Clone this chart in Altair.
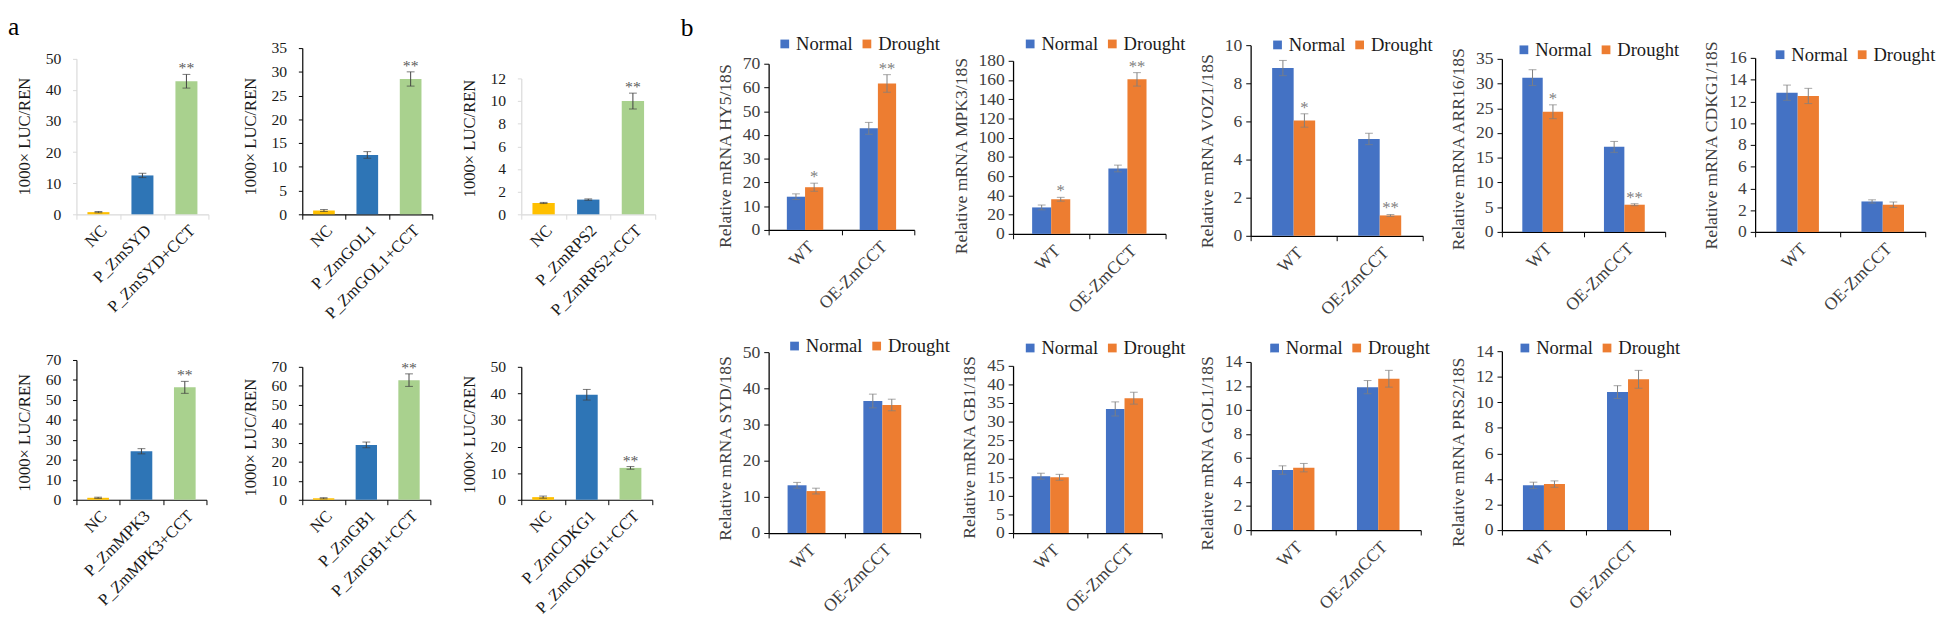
import altair as alt
import pandas as pd

FONT = "Liberation Serif, Times New Roman, serif"

# ---------------- panel a : dual-luciferase assays ----------------
A_GENES = ["SYD", "GOL1", "RPS2", "MPK3", "GB1", "CDKG1"]
A_NC = [0.7, 0.8, 1.0, 1.0, 0.8, 1.0]
A_NC_ERR = [0.2, 0.2, 0.05, 0.3, 0.3, 0.4]
A_P = [12.5, 12.5, 1.3, 24.3, 28.9, 39.5]
A_P_ERR = [0.7, 0.7, 0.06, 1.3, 1.5, 2.0]
A_PC = [42.8, 28.5, 10.0, 56.3, 63.0, 12.0]
A_PC_ERR = [2.2, 1.5, 0.7, 3.0, 3.3, 0.5]
A_STAR = ["**", "**", "**", "**", "**", "**"]
A_YMAX = [50, 35, 12, 70, 70, 50]
A_YSTEP = [10, 5, 2, 10, 10, 10]

# ---------------- panel b : qRT-PCR ----------------
B_GENES = ["HY5", "MPK3", "VOZ1", "ARR16", "CDKG1", "SYD", "GB1", "GOL1", "PRS2"]
B_GENO = ["WT", "OE-ZmCCT"]
B_COND = ["Normal", "Drought"]
B_WT_N = [14.0, 27.5, 8.8, 31.2, 12.8, 13.2, 15.3, 5.0, 3.5]
B_WT_N_ERR = [1.2, 2.5, 0.4, 1.6, 0.7, 0.8, 0.8, 0.35, 0.25]
B_WT_D = [18.0, 36.0, 6.05, 24.3, 12.5, 11.6, 15.0, 5.2, 3.6]
B_WT_D_ERR = [1.7, 2.0, 0.35, 1.4, 0.7, 0.8, 0.8, 0.35, 0.25]
B_OE_N = [42.8, 68.0, 5.08, 17.2, 2.8, 36.5, 33.4, 11.9, 10.8]
B_OE_N_ERR = [2.5, 3.5, 0.3, 1.1, 0.15, 1.9, 1.9, 0.55, 0.5]
B_OE_D = [61.7, 160.7, 1.07, 5.5, 2.5, 35.4, 36.3, 12.6, 11.8]
B_OE_D_ERR = [3.7, 7.0, 0.05, 0.2, 0.25, 1.6, 1.6, 0.7, 0.7]
B_WT_D_STAR = ["*", "*", "*", "*", "", "", "", "", ""]
B_OE_D_STAR = ["**", "**", "**", "**", "", "", "", "", ""]
B_YMAX = [70, 180, 10, 35, 16, 50, 45, 14, 14]
B_YSTEP = [10, 20, 2, 5, 2, 10, 5, 2, 2]

# ---------------- styles ----------------
A_COLORS = ["#FFC000", "#2E75B6", "#A9D18E"]
B_COLORS = ["#4472C4", "#ED7D31"]
EB_A = "#404040"
EB_B = "#7F7F7F"

# ---------------- layout (page pixels) ----------------
O = 8
ROW_T = [39, 352]      # common top of the plot cells in each row
ROW_B = [234, 538]     # common bottom of the plot cells in each row
# left, top, width, height, axis colour, row, y-title centre
A_LAYOUT = [
    (70, 53, 135, 159, "#D9D9D9", 0, 132),
    (301, 42, 133, 170, "#000000", 0, 132),
    (525, 73, 137, 139, "#D9D9D9", 0, 134),
    (78, 361, 133, 143, "#000000", 1, 435),
    (302, 368, 131, 136, "#000000", 1, 440),
    (524, 368, 134, 136, "#000000", 1, 437),
]
# left, top, width, height, legend x, legend y, row, y-title centre
B_LAYOUT = [
    (778, 58, 149, 170, 7, -30, 0, 152),
    (1021, 55, 156, 177, 8, -27, 0, 152),
    (1253, 39, 176, 195, 18, -10, 0, 147),
    (1510, 53, 167, 177, 13, -19, 0, 145),
    (1764, 52, 174, 178, 16, -13, 0, 141),
    (773, 353, 155, 185, 17, -16, 1, 451),
    (1023, 367, 152, 171, 8, -28, 1, 450),
    (1262, 363, 174, 172, 15, -24, 1, 456),
    (1508, 352, 172, 183, 14, -13, 1, 455),
]

DUMMY = pd.DataFrame({"d": [0]})


def spacer(w, h, title=None):
    ch = alt.Chart(DUMMY).mark_point(opacity=0, size=0, filled=True, strokeWidth=0).encode(
        x=alt.value(0), y=alt.value(0)
    ).properties(width=max(int(w), 1), height=max(int(h), 1))
    if title is not None:
        ch = ch.properties(title=title)
    return ch


def panel_a(i):
    left, top, w, h, axc, r, tcy = A_LAYOUT[i]
    T, B = ROW_T[r], ROW_B[r]
    H = B - T
    y_bot, y_top = top + h - T, top - T
    g = A_GENES[i]
    cats = ["NC", f"P_Zm{g}", f"P_Zm{g}+CCT"]
    df = pd.DataFrame({
        "cat": cats,
        "val": [A_NC[i], A_P[i], A_PC[i]],
        "err": [A_NC_ERR[i], A_P_ERR[i], A_PC_ERR[i]],
        "star": ["", "", A_STAR[i]],
    })
    df["lo"] = df["val"] - df["err"]
    df["hi"] = df["val"] + df["err"]
    xax = alt.Axis(title=None, labelAngle=-45, tickBand="extent", domainColor=axc, tickColor=axc,
                   tickSize=5, labelFontSize=17, labelPadding=3, labelColor="#1a1a1a", labelFont=FONT,
                   domainWidth=1.2, labelOverlap=False, labelLimit=300, offset=-(H - y_bot))
    yax = alt.Axis(title="1000× LUC/REN", values=list(range(0, A_YMAX[i] + 1, A_YSTEP[i])), format="d",
                   domainColor=axc, tickColor=axc, tickSize=4, labelPadding=12, labelFontSize=16,
                   labelFont=FONT, titleFont=FONT, titleY=tcy - T,
                   titleFontSize=17, titleFontWeight="normal", labelColor="#1a1a1a", titleColor="#1a1a1a",
                   titlePadding=12, labelFlush=False, labelOverlap=False, domainWidth=1.2)
    xs = alt.Scale(paddingInner=0, paddingOuter=0)
    ys = alt.Scale(domain=[0, A_YMAX[i]], nice=False, range=[y_bot, y_top])

    def X():
        return alt.X("cat:N", sort=cats, scale=xs, axis=xax)

    def Y(f):
        return alt.Y(f, scale=ys, axis=yax)

    base = alt.Chart(df)
    bars = base.mark_bar(width=alt.RelativeBandSize(0.5)).encode(
        x=X(), y=Y("val:Q"),
        color=alt.Color("cat:N", sort=cats, scale=alt.Scale(domain=cats, range=A_COLORS), legend=None))
    rule = base.mark_rule(color=EB_A, strokeWidth=1).encode(x=X(), y=Y("lo:Q"), y2="hi:Q")
    cap1 = base.mark_tick(color=EB_A, thickness=1, size=8).encode(x=X(), y=Y("lo:Q"))
    cap2 = base.mark_tick(color=EB_A, thickness=1, size=8).encode(x=X(), y=Y("hi:Q"))
    stars = base.mark_text(baseline="alphabetic", dy=-1, fontSize=16, color="#595959", font=FONT).encode(
        x=X(), y=Y("hi:Q"), text="star:N")
    return alt.layer(bars, rule, cap1, cap2, stars).properties(width=w, height=H)


def panel_b(i):
    left, top, w, h, lx, ly, r, tcy = B_LAYOUT[i]
    T, B = ROW_T[r], ROW_B[r]
    H = B - T
    y_bot, y_top = top + h - T, top - T
    g = B_GENES[i]
    df = pd.DataFrame({
        "geno": ["WT", "WT", "OE-ZmCCT", "OE-ZmCCT"],
        "cond": ["Normal", "Drought", "Normal", "Drought"],
        "val": [B_WT_N[i], B_WT_D[i], B_OE_N[i], B_OE_D[i]],
        "err": [B_WT_N_ERR[i], B_WT_D_ERR[i], B_OE_N_ERR[i], B_OE_D_ERR[i]],
        "star": ["", B_WT_D_STAR[i], "", B_OE_D_STAR[i]],
    })
    df["lo"] = df["val"] - df["err"]
    df["hi"] = df["val"] + df["err"]
    xax = alt.Axis(title=None, labelAngle=-45, tickBand="extent", domainColor="#000000", tickColor="#000000",
                   tickSize=5, labelFontSize=18, labelPadding=3, labelColor="#404040", labelFont=FONT,
                   domainWidth=1.3, labelOverlap=False, labelLimit=300, offset=-(H - y_bot))
    yax = alt.Axis(title=f"Relative mRNA {g}/18S", values=list(range(0, B_YMAX[i] + 1, B_YSTEP[i])),
                   format="d", domainColor="#000000", tickColor="#000000", tickSize=5, labelPadding=4,
                   labelFont=FONT, titleFont=FONT, titleY=tcy - T,
                   labelFontSize=18, titleFontSize=18, titleFontWeight="normal", labelColor="#404040",
                   titleColor="#404040", titlePadding=8, labelFlush=False, labelOverlap=False, domainWidth=1.3)
    xs = alt.Scale(paddingInner=0, paddingOuter=0)
    ys = alt.Scale(domain=[0, B_YMAX[i]], nice=False, range=[y_bot, y_top])
    os_ = alt.Scale(paddingInner=0, paddingOuter=1)

    def X():
        return alt.X("geno:N", sort=B_GENO, scale=xs, axis=xax)

    def XO():
        return alt.XOffset("cond:N", sort=B_COND, scale=os_)

    def Y(f):
        return alt.Y(f, scale=ys, axis=yax, stack=None)

    base = alt.Chart(df)
    bars = base.mark_bar().encode(
        x=X(), xOffset=XO(), y=Y("val:Q"),
        color=alt.Color("cond:N", sort=B_COND, scale=alt.Scale(domain=B_COND, range=B_COLORS),
                        legend=alt.Legend(orient="none", legendX=lx, legendY=ly + (top - T),
                                          direction="horizontal", title=None, symbolType="square",
                                          symbolSize=80, symbolStrokeWidth=0, labelFontSize=19,
                                          labelFont=FONT, labelColor="#1a1a1a",
                                          columnPadding=4, labelOffset=2, padding=0)))
    rule = base.mark_rule(color=EB_B, strokeWidth=1).encode(x=X(), xOffset=XO(), y=Y("lo:Q"), y2="hi:Q")
    cap1 = base.mark_tick(color=EB_B, thickness=1, size=8).encode(x=X(), xOffset=XO(), y=Y("lo:Q"))
    cap2 = base.mark_tick(color=EB_B, thickness=1, size=8).encode(x=X(), xOffset=XO(), y=Y("hi:Q"))
    stars = base.mark_text(baseline="alphabetic", dy=-1, fontSize=17, color="#7F7F7F", font=FONT).encode(
        x=X(), xOffset=XO(), y=Y("hi:Q"), text="star:N")
    return alt.layer(bars, rule, cap1, cap2, stars).properties(width=w, height=H)


TOP = [(A_LAYOUT[0], lambda: panel_a(0)), (A_LAYOUT[1], lambda: panel_a(1)), (A_LAYOUT[2], lambda: panel_a(2)),
       (B_LAYOUT[0], lambda: panel_b(0)), (B_LAYOUT[1], lambda: panel_b(1)), (B_LAYOUT[2], lambda: panel_b(2)),
       (B_LAYOUT[3], lambda: panel_b(3)), (B_LAYOUT[4], lambda: panel_b(4))]
BOT = [(A_LAYOUT[3], lambda: panel_a(3)), (A_LAYOUT[4], lambda: panel_a(4)), (A_LAYOUT[5], lambda: panel_a(5)),
       (B_LAYOUT[5], lambda: panel_b(5)), (B_LAYOUT[6], lambda: panel_b(6)), (B_LAYOUT[7], lambda: panel_b(7)),
       (B_LAYOUT[8], lambda: panel_b(8)), None]


def letter(s, dx):
    return alt.TitleParams(s, orient="bottom", anchor="start", frame="group", offset=0, baseline="alphabetic",
                           fontSize=26, fontWeight="normal", color="#000000", dx=dx, font=FONT)


rows = [[], [], [], []]
prev_top = O
prev_bot = O
for k in range(8):
    (tl, tt, tw, *_), tbuild = TOP[k]
    hs_top = tl - prev_top
    title = None
    h0 = 1
    if k == 0:
        title = letter("a", 0)
        h0 = 21
    if k == 3:
        title = letter("b", 688 - prev_top)
        h0 = 22
    rows[0] += [spacer(hs_top, h0, title), spacer(tw, ROW_T[0] - O)]
    rows[1] += [spacer(hs_top, 1), tbuild()]
    prev_top = tl + tw
    if BOT[k] is not None:
        (bl, bt, bw, *_), bbuild = BOT[k]
        hs_bot = bl - prev_bot
        rows[2] += [spacer(hs_bot, 1), spacer(tw, ROW_T[1] - ROW_B[0])]
        rows[3] += [spacer(hs_bot, 1), bbuild()]
        prev_bot = bl + bw
    else:
        rows[2] += [spacer(1, 1), spacer(1, 1)]
        rows[3] += [spacer(1, 1), spacer(1, 1)]

cells = rows[0] + rows[1] + rows[2] + rows[3]

chart = alt.concat(*cells, columns=16, spacing=0).properties(
    bounds="flush", align="none", padding=0
).resolve_scale(
    x="independent", y="independent", color="independent", xOffset="independent"
).configure_view(stroke=None).configure_axis(
    grid=False, labelFont=FONT, titleFont=FONT
).configure_legend(labelFont=FONT).configure_title(font=FONT).configure_text(font=FONT)

chart.save("out.html", embed_options={"renderer": "svg", "actions": False})
